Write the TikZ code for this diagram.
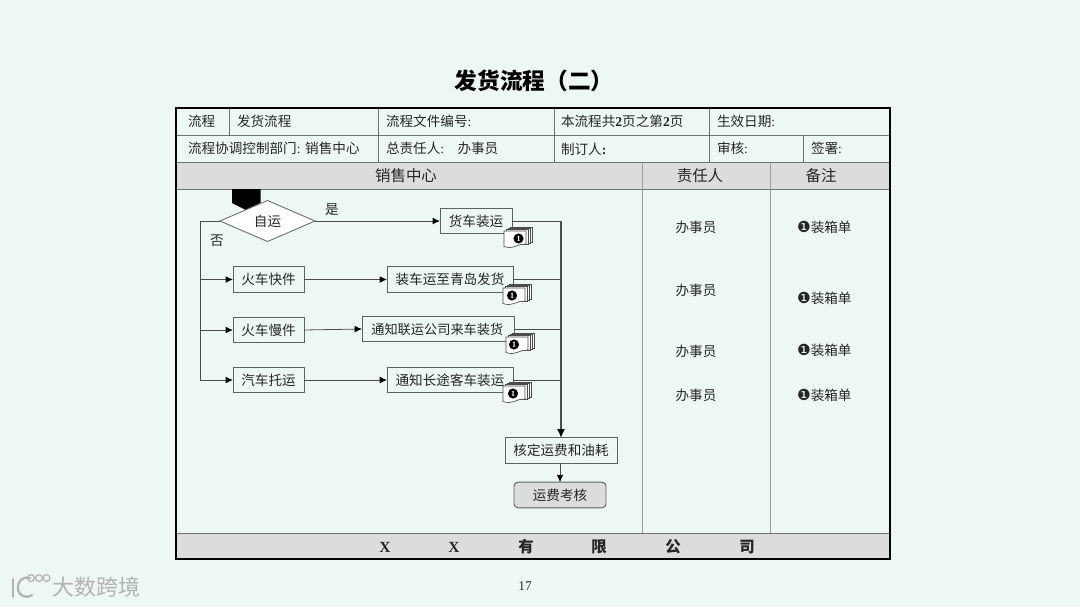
\documentclass[tikz,border=0pt]{standalone}
\usepackage{fontspec}
\setmainfont{Noto Sans CJK SC}
\newfontfamily\libf{Liberation Serif}
\newfontfamily\djvf{DejaVu Sans}
\usetikzlibrary{arrows.meta,shapes.geometric}
\definecolor{bgc}{HTML}{EDF8F4}
\definecolor{bandc}{HTML}{DCDCDC}
\definecolor{linec}{HTML}{6E7472}
\definecolor{txtc}{HTML}{262626}
\newcommand{\szA}{\fontsize{10.2pt}{12pt}\selectfont}
\newcommand{\szB}{\fontsize{11.6pt}{14pt}\selectfont}
\newcommand{\lat}[1]{{\libf #1}}
\newcommand{\latb}[1]{{\libf\bfseries #1}}
\newcommand{\bul}{{\djvf\fontsize{11.5pt}{12pt}\selectfont ❶}}
\tikzset{
  x=0.75pt,y=-0.75pt,
  lbl/.style={inner sep=0pt,outer sep=0pt,text=txtc,font=\szA},
  lft/.style={lbl,anchor=west},
  head/.style={lbl,font=\szB},
  foot/.style={lbl,font=\szB\bfseries},
  cell/.style={draw=linec,line width=0.7pt},
  stepbox/.style={draw=linec!85!black,line width=0.7pt,fill=bgc,inner sep=0pt,outer sep=0pt,text=txtc,font=\szA,minimum height=19.2pt},
  flow/.style={draw=black!70,line width=0.6pt},
  arr/.style={flow,-{Latex[length=5.5pt,width=5pt,black]}},
}
% document stack icon: #1 name, #2 x, #3 y of the top-left of the front sheet, #4 x offset of the disc
\newcommand{\docicon}[4]{%
  \foreach \d in {6,4,2}{
    \draw[fill=white,draw=black!70,line width=0.4pt] (#2+\d,#3-\d*0.7) rectangle ++(22,15);
  }
  \draw[fill=white,draw=black!70,line width=0.5pt] (#2,#3) -- ++(22,0) -- ++(0,13) .. controls (#2+15,#3+12) and (#2+9,#3+19) .. (#2,#3+15.5) -- cycle;
  \node[circle,fill=black,inner sep=0pt,minimum size=7.6pt,text=white,font=\fontsize{6pt}{6pt}\selectfont\libf\bfseries] (#1) at (#2+#4,#3+7.5) {1};
}
\begin{document}
\begin{tikzpicture}
\useasboundingbox (0,0) rectangle (1080,607);
\fill[bgc] (0,0) rectangle (1080,607);

% title
\node[lbl,text=black,font=\fontsize{17pt}{19pt}\selectfont\bfseries] (title) at (534,81) {发货流程（二）};

% bands
\fill[bandc] (176,162) rectangle (890,189);
\fill[bandc] (176,533) rectangle (890,559);

% table lines
\draw[cell] (176,135) -- (890,135);
\draw[cell] (176,162) -- (890,162);
\draw[cell] (176,189) -- (890,189);
\draw[cell] (176,533) -- (890,533);
\draw[cell] (229,108) -- (229,135);
\draw[cell] (378,108) -- (378,162);
\draw[cell] (554,108) -- (554,162);
\draw[cell] (709,108) -- (709,162);
\draw[cell] (803,135) -- (803,162);
\draw[cell,draw=linec!70] (642.5,162) -- (642.5,533);
\draw[cell,draw=linec!70] (770.5,162) -- (770.5,533);
\draw[black,line width=1.6pt] (176,108) rectangle (890,559);

% table text
\node[lft] (t1) at (188,121.5) {流程};
\node[lft] (t2) at (237,121.5) {发货流程};
\node[lft] (t3) at (386,121.5) {流程文件编号\lat{:}};
\node[lft] (t4) at (561,121.5) {本流程共\latb{2}页之第\latb{2}页};
\node[lft] (t5) at (717,121.5) {生效日期\lat{:}};
\node[lft] (t6) at (188,148) {流程协调控制部门\lat{:}\hspace{3.5pt}销售中心};
\node[lft] (t7) at (386,148) {总责任人\lat{:}\hspace{10pt}办事员};
\node[lft] (t8) at (561,149) {制订人\latb{:}};
\node[lft] (t9) at (717,148) {审核\lat{:}};
\node[lft] (t10) at (811,148) {签署\lat{:}};
\node[head] (h1) at (406,176) {销售中心};
\node[head] (h2) at (700,176) {责任人};
\node[head] (h3) at (821,176) {备注};

% footer
\node[foot] (f1) at (385,547) {\lat{X}};
\node[foot] (f2) at (454,547) {\lat{X}};
\node[foot] (f3) at (526,547) {有};
\node[foot] (f4) at (599,547) {限};
\node[foot] (f5) at (673,547) {公};
\node[foot] (f6) at (747,547) {司};
\node[lbl,font=\fontsize{10pt}{12pt}\selectfont\libf] (pg) at (525,586) {17};

% off-page connector
\fill[black] (232,189) -- (260.5,189) -- (260.5,203) -- (246,210) -- (232,203) -- cycle;

% flow nodes
\node[diamond,draw=linec,line width=0.7pt,fill=white,inner sep=0pt,outer sep=0pt,minimum width=71.25pt,minimum height=30.75pt,aspect=2.3,text=txtc,font=\szA] (d) at (267.5,221) {自运};
\node[stepbox,minimum width=54pt] (a1) at (476,221) {货车装运};
\node[stepbox,minimum width=53.25pt] (b1) at (268.5,279.5) {火车快件};
\node[stepbox,minimum width=94.5pt] (b2) at (450,279.5) {装车运至青岛发货};
\node[stepbox,minimum width=53.25pt] (c1) at (268.5,330) {火车慢件};
\node[stepbox,minimum width=114pt,font=\fontsize{9.9pt}{12pt}\selectfont] (c2) at (438,329) {\hspace{-1pt}通知联运公司来车装货\hspace{1pt}};
\node[stepbox,minimum width=53.25pt] (e1) at (268.5,380) {汽车托运};
\node[stepbox,minimum width=94.5pt] (e2) at (450,380) {通知长途客车装运};
\node[stepbox,minimum width=84pt] (k) at (561,450.5) {核定运费和油耗};
\node[stepbox,rounded corners=3pt,fill=bandc,minimum width=69pt] (z) at (560,495) {运费考核};

% free ends of the two collector lines
\coordinate (busTL) at (200,221);
\coordinate (busA) at (561,221);
\coordinate (busB) at (561,279.5);
\coordinate (busC) at (561,329);
\coordinate (busE) at (561,380);
\coordinate (lB) at (200,279.5);
\coordinate (lC) at (200,330);
\coordinate (lE) at (200,380);

% left side
\draw[flow] (d.west) -- (busTL) -- (lE);
\draw[arr] (lB) -- (b1.west);
\draw[arr] (lC) -- (c1.west);
\draw[arr] (lE) -- (e1.west);
\draw[arr] (d.east) -- (a1.west);
\draw[arr] (b1.east) -- (b2.west);
\draw[arr] (c1.east) -- (c2.west);
\draw[arr] (e1.east) -- (e2.west);

% right side
\draw[flow] (a1.east) -- (busA);
\draw[flow] (b2.east) -- (busB);
\draw[flow] (c2.east) -- (busC);
\draw[flow] (e2.east) -- (busE);
\draw[flow,line width=0.9pt,-{Latex[length=6.5pt,width=6pt,black]}] (busA) -- (k.north -| busA);
\draw[arr] (k.south -| z.north) -- (z.north);

% branch labels
\node[lbl] (yes) at (332,209.5) {是};
\node[lbl] (no) at (217,240.5) {否};

% document icons
\docicon{i1}{504}{231}{14.5}
\docicon{i2}{503}{288}{9}
\docicon{i3}{506}{337}{8}
\docicon{i4}{503}{386}{10}

% responsible
\node[lbl] (r1) at (696,227) {办事员};
\node[lbl] (r2) at (696,290) {办事员};
\node[lbl] (r3) at (696,351) {办事员};
\node[lbl] (r4) at (696,395.5) {办事员};

% remarks
\node[lft] (n1) at (797,227) {\bul 装箱单};
\node[lft] (n2) at (797,298) {\bul 装箱单};
\node[lft] (n3) at (797,350) {\bul 装箱单};
\node[lft] (n4) at (797,395) {\bul 装箱单};

% watermark
\begin{scope}[draw=black!30,line width=1.7pt,line cap=round]
  \draw (13,579) -- (13,597);
  \draw (30,578) .. controls (21,576) and (17,583) .. (18,589) .. controls (19,596) and (26,599) .. (32,595);
  \draw[line width=0.9pt] (31,578) circle[radius=3.4];
  \draw[line width=0.9pt] (39,578) circle[radius=3.4];
  \draw[line width=0.9pt] (46.5,578) circle[radius=3.4];
\end{scope}
\node[lbl,text=black!30,font=\fontsize{16.5pt}{18pt}\selectfont] (wm) at (96,587) {大数跨境};
\end{tikzpicture}
\end{document}
